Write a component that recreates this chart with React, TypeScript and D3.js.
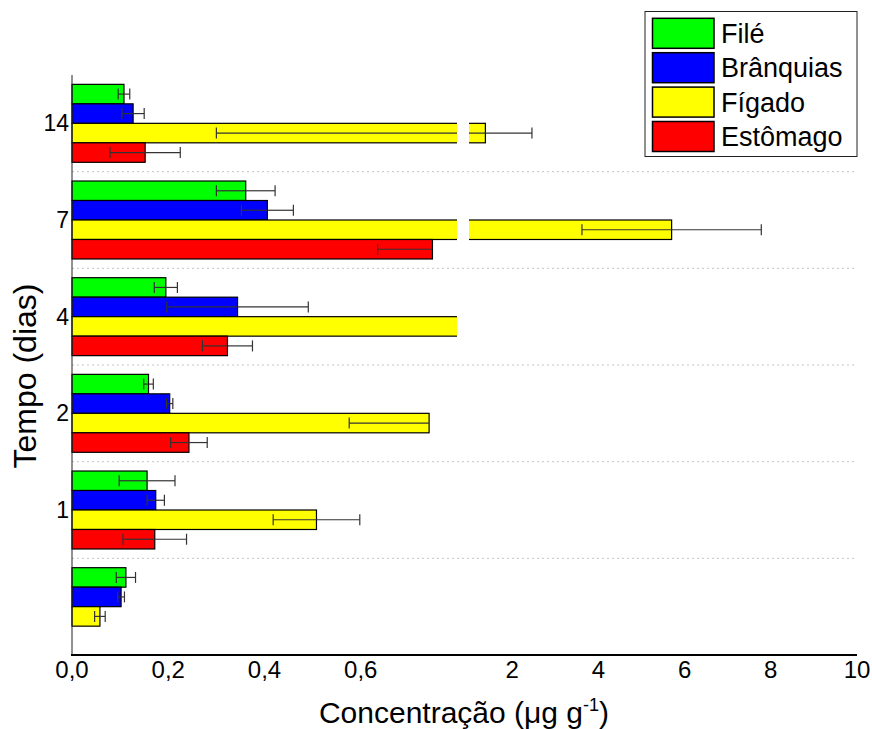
import * as d3 from "d3";

// dias (top to bottom), the bottom group has no label
const categories = ["14", "7", "4", "2", "1", "0"];
const categoryLabels = ["14", "7", "4", "2", "1", ""];

const seriesNames = ["Filé", "Brânquias", "Fígado", "Estômago"];
const seriesColors = ["#00ff00", "#0000ff", "#ffff00", "#ff0000"];

const fileValues = [0.108, 0.361, 0.195, 0.159, 0.156, 0.112];
const fileErr = [0.012, 0.061, 0.024, 0.01, 0.058, 0.02];
const branquiasValues = [0.127, 0.406, 0.344, 0.203, 0.174, 0.102];
const branquiasErr = [0.023, 0.054, 0.147, 0.0065, 0.018, 0.007];
const figadoValues = [1.38, 5.7, 0.9, 0.742, 0.508, 0.058];
const figadoErr = [1.08, 2.08, 0.04, 0.166, 0.09, 0.011];
const estomagoValues: (number | null)[] = [0.152, 0.749, 0.323, 0.243, 0.172, null];
const estomagoErr: (number | null)[] = [0.073, 0.114, 0.052, 0.038, 0.066, null];

const leftTicks = [0, 0.2, 0.4, 0.6];
const rightTicks = [2, 4, 6, 8, 10];

const W = 872;
const H = 729;
const FONT = "'Liberation Sans', Arial, sans-serif";

// broken x axis: two segments
const breakLo = 0.8;
const breakHi = 1;
const xL = d3.scaleLinear().domain([0, breakLo]).range([72, 457]);
const xR = d3.scaleLinear().domain([breakHi, 10]).range([469, 857]);

const y = d3.scaleBand().domain(categories).range([75, 655]).padding(0);
const inner = d3
  .scaleBand()
  .domain(seriesNames)
  .range([0, y.bandwidth()])
  .paddingInner(0)
  .paddingOuter(0.48);

const allValues = [fileValues, branquiasValues, figadoValues, estomagoValues];
const allErr = [fileErr, branquiasErr, figadoErr, estomagoErr];

const inBreak = (v: number) => v > breakLo && v < breakHi;
const fmtComma = (v: number) => d3.format(".1f")(v).replace(".", ",");

export default function App() {
  const bars: { cat: string; s: number; v: number; e: number | null }[] = [];
  categories.forEach((cat, i) => {
    seriesNames.forEach((_, s) => {
      const v = allValues[s][i];
      if (v == null) return;
      bars.push({ cat, s, v, e: allErr[s][i] });
    });
  });

  const bw = inner.bandwidth();
  const segments = [
    { id: "clipL", scale: xL, show: (_v: number) => true },
    { id: "clipR", scale: xR, show: (v: number) => v > breakHi },
  ];

  return (
    <div style={{ position: "absolute", left: 0, top: 0 }}>
      <svg width={W} height={H} style={{ display: "block", background: "#fff" }}>
        <defs>
          <clipPath id="clipL">
            <rect x={0} y={0} width={457} height={H} />
          </clipPath>
          <clipPath id="clipR">
            <rect x={469} y={0} width={W - 469} height={H} />
          </clipPath>
        </defs>

        {/* group separators */}
        {categories.slice(1).map((c) => (
          <line
            key={c}
            x1={72}
            x2={857}
            y1={y(c)}
            y2={y(c)}
            stroke="#c4c4c4"
            strokeWidth={1}
            strokeDasharray="2,3"
          />
        ))}

        {/* bars, clipped to each axis segment */}
        {segments.map((seg) => (
          <g key={seg.id} clipPath={`url(#${seg.id})`}>
            {bars
              .filter((b) => seg.show(b.v))
              .map((b, k) => {
                const y0 = (y(b.cat) || 0) + (inner(seriesNames[b.s]) || 0);
                const x0 = seg.scale(0);
                return (
                  <rect
                    key={k}
                    x={x0}
                    y={y0}
                    width={seg.scale(b.v) - x0}
                    height={bw}
                    fill={seriesColors[b.s]}
                    stroke="#000"
                    strokeWidth={1.2}
                  />
                );
              })}
          </g>
        ))}

        {/* error bars, halves ending inside the break are not drawn */}
        {segments.map((seg) => (
          <g key={seg.id + "e"} clipPath={`url(#${seg.id})`} stroke="#333" strokeWidth={1.2}>
            {bars.map((b, k) => {
              if (b.e == null) return null;
              const cy = (y(b.cat) || 0) + (inner(seriesNames[b.s]) || 0) + bw / 2;
              return [b.v - b.e, b.v + b.e]
                .filter((end) => !inBreak(end))
                .map((end, j) => {
                  const xe = seg.scale(end);
                  return (
                    <g key={`${k}-${j}`}>
                      <line x1={seg.scale(b.v)} x2={xe} y1={cy} y2={cy} />
                      <line x1={xe} x2={xe} y1={cy - 5.5} y2={cy + 5.5} />
                    </g>
                  );
                });
            })}
          </g>
        ))}

        {/* axes */}
        <line x1={72} x2={72} y1={75} y2={655} stroke="#222" strokeWidth={1} />
        <line x1={71} x2={857} y1={655} y2={655} stroke="#000" strokeWidth={2.2} />

        <g fontFamily={FONT} fontSize={24} fill="#000" textAnchor="middle">
          {leftTicks.map((t) => (
            <text key={"l" + t} x={xL(t)} y={678}>
              {fmtComma(t)}
            </text>
          ))}
          {rightTicks.map((t) => (
            <text key={"r" + t} x={xR(t)} y={678}>
              {t}
            </text>
          ))}
        </g>

        <g fontFamily={FONT} fontSize={23} fill="#000" textAnchor="end">
          {categories.map((c, i) => (
            <text key={c} x={69} y={(y(c) || 0) + y.bandwidth() / 2 + 8}>
              {categoryLabels[i]}
            </text>
          ))}
        </g>

        <text
          x={464}
          y={723}
          fontFamily={FONT}
          fontSize={30}
          textAnchor="middle"
          fill="#000"
        >
          Concentração (μg g
          <tspan fontSize={18} dy={-12}>-1</tspan>
          <tspan dy={12}>)</tspan>
        </text>

        <text
          transform={`translate(36,376) rotate(-90)`}
          fontFamily={FONT}
          fontSize={32}
          textAnchor="middle"
          fill="#000"
        >
          Tempo (dias)
        </text>

        {/* legend */}
        <g fontFamily={FONT} fontSize={27}>
          <rect x={645} y={11.5} width={212} height={145} fill="#fff" stroke="#222" strokeWidth={1} />
          {seriesNames.map((name, i) => (
            <g key={name} transform={`translate(0,${18.3 + i * 34.4})`}>
              <rect x={652.5} y={0} width={61.5} height={30} fill={seriesColors[i]} stroke="#000" strokeWidth={1.5} />
              <text x={721} y={24.5} fill="#000">
                {name}
              </text>
            </g>
          ))}
        </g>
      </svg>
    </div>
  );
}
